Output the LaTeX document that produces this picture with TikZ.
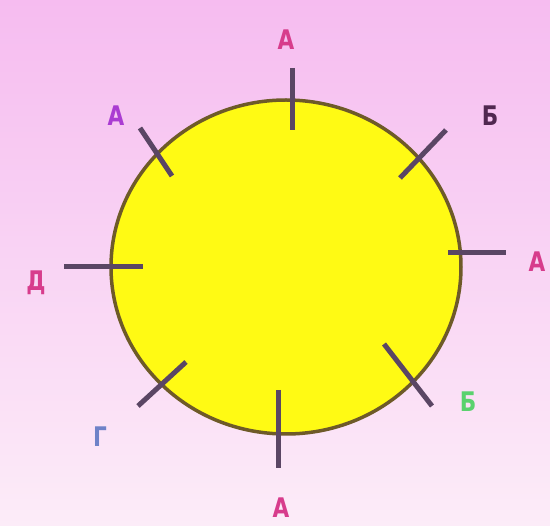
\documentclass[tikz,border=0pt]{standalone}
\usepackage{fontspec}
\setmainfont{DejaVu Sans}
\definecolor{bgtop}{RGB}{246,188,240}
\definecolor{bgbot}{RGB}{252,236,248}
\definecolor{sunfill}{RGB}{255,250,20}
\definecolor{sunedge}{RGB}{110,90,40}
\definecolor{tickc}{RGB}{90,70,100}
\definecolor{pinkl}{RGB}{215,60,140}
\definecolor{purpl}{RGB}{170,60,210}
\definecolor{darkl}{RGB}{80,40,80}
\definecolor{bluel}{RGB}{110,130,200}
\definecolor{greenl}{RGB}{90,210,110}
\tikzset{
  tick/.style={draw=tickc, line width=5pt},
  lab/.style={font=\bfseries\fontsize{27}{29}\selectfont, inner sep=0pt, xscale=0.8},
}
\begin{document}
\begin{tikzpicture}[x=1pt,y=-1pt]
\useasboundingbox (0,0) rectangle (550,526);
\shade[top color=bgtop, bottom color=bgbot] (0,0) rectangle (550,526);
\draw[sunedge, line width=3.5pt, fill=sunfill] (286,267) ellipse [x radius=175, y radius=167];
% ticks
\coordinate (t1a) at (292,68);  \coordinate (t1b) at (292,130);
\coordinate (t2a) at (140,128); \coordinate (t2b) at (172,176);
\coordinate (t3a) at (446,130); \coordinate (t3b) at (400,178);
\coordinate (t4a) at (448,253); \coordinate (t4b) at (506,253);
\coordinate (t5a) at (64,267);  \coordinate (t5b) at (143,267);
\coordinate (t6a) at (138,406); \coordinate (t6b) at (186,362);
\coordinate (t7a) at (384,344); \coordinate (t7b) at (432,406);
\coordinate (t8a) at (278,390); \coordinate (t8b) at (278,468);
\foreach \i in {1,...,8} {\draw[tick] (t\i a) -- (t\i b);}
% labels
\node[lab, text=pinkl] (la) at (286,40) {А};
\node[lab, text=purpl] (lb) at (116,116) {А};
\node[lab, text=darkl] (lc) at (490,116) {Б};
\node[lab, text=pinkl] (ld) at (537,262) {А};
\node[lab, text=pinkl] (le) at (36,283) {Д};
\node[lab, text=bluel] (lf) at (100,437) {Г};
\node[lab, text=greenl] (lg) at (468,402) {Б};
\node[lab, text=pinkl] (lh) at (281,508) {А};
\end{tikzpicture}
\end{document}
